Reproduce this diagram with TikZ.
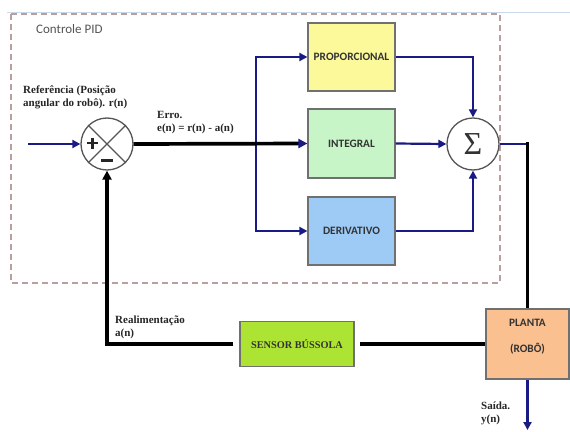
\documentclass[tikz,border=0pt]{standalone}
\usepackage{fontspec}
\setmainfont{Liberation Serif}
\newfontfamily\boxfont{Carlito}
\newfontfamily\sigfont{Liberation Serif}
\usetikzlibrary{arrows.meta,calc}
\definecolor{navyc}{HTML}{1A1A85}
\definecolor{boxborder}{HTML}{707070}
\definecolor{boxtext}{HTML}{333333}
\definecolor{dashc}{HTML}{B8A0A0}
\definecolor{topline}{HTML}{C8D8E8}
\definecolor{propc}{HTML}{FCF99A}
\definecolor{integc}{HTML}{C8F5C8}
\definecolor{derivc}{HTML}{9DCBF5}
\definecolor{plantac}{HTML}{FAC090}
\definecolor{sensorc}{HTML}{ADE332}
\definecolor{circc}{HTML}{555555}
\begin{document}
\begin{tikzpicture}[x=1pt,y=1pt,
  blk/.style={draw=boxborder, line width=1.2pt, minimum width=87pt, minimum height=68pt,
    font=\boxfont\bfseries\fontsize{11.3}{12}\selectfont, text=boxtext, inner sep=0pt, align=center},
  circ/.style={circle, draw=circc, line width=1.3pt, minimum size=52pt, inner sep=0pt, fill=white},
  nv/.style={draw=navyc, line width=2.2pt},
  nvtip/.style={-{Triangle[length=8pt,width=8pt]}},
  bl/.style={draw=black, line width=3.7pt},
  lbl/.style={font=\bfseries\fontsize{11}{13}\selectfont, align=left, inner sep=0pt, anchor=north west, text=black!85}
]
\useasboundingbox (0,0) rectangle (570,-431);
\fill[white] (0,0) rectangle (570,-431);
\draw[topline, line width=0.6pt] (7,-12) -- (570,-12);
\draw[dashc, line width=1.5pt, dash pattern=on 6pt off 4pt] (11,-14) rectangle (500,-283);
\node[anchor=west, inner sep=0pt, font=\boxfont\fontsize{13}{14}\selectfont, text=circc] (title) at (36,-29) {Controle PID};

% blocks
\node[blk, fill=propc] (prop) at (351.5,-57) {PROPORCIONAL};
\node[blk, fill=integc, minimum height=69pt] (integ) at (351.5,-143.5) {INTEGRAL};
\node[blk, fill=derivc] (deriv) at (351.5,-231) {DERIVATIVO};
\node[blk, fill=plantac, minimum width=83pt, minimum height=70pt] (planta) at (527.5,-344) {};
\node[font=\boxfont\bfseries\fontsize{11.3}{12}\selectfont, text=boxtext, inner sep=0pt] (plantat) at (527.5,-323) {PLANTA};
\node[font=\boxfont\bfseries\fontsize{11.3}{12}\selectfont, text=boxtext, inner sep=0pt] (robot) at (527.5,-349) {(ROBÔ)};
\node[blk, fill=sensorc, minimum width=114pt, minimum height=45pt,
  font=\bfseries\fontsize{10.3}{12}\selectfont] (sensor) at (297,-344) {SENSOR BÚSSOLA};

% summing junctions
\node[circ] (cross) at (107,-144) {};
\draw[circc, line width=1.3pt] (cross.45) -- (cross.225) (cross.135) -- (cross.315);
\draw[black!85, line width=2.6pt] ($(cross)+(-20,1)$) -- ($(cross)+(-9,1)$) ($(cross)+(-14.5,6.5)$) -- ($(cross)+(-14.5,-4.5)$);
\draw[black!85, line width=3pt] ($(cross)+(-6,-16)$) -- ($(cross)+(6,-16)$);
\node[circ, font=\sigfont\fontsize{32}{32}\selectfont, text=black!80] (sigma) at (473,-144) {Σ};

% coordinates
\coordinate (in) at (28,-144);
\coordinate (br) at (256,-144);
\coordinate (corner) at (planta.north |- sigma.east);
\coordinate (out) at (527.5,-430);

% connectors
\draw[nv, nvtip] (in) -- (cross.west);
\draw[nv, nvtip] (br) |- (prop.west);
\draw[nv, nvtip] (br) |- (deriv.west);
\draw[bl, -{Triangle[length=9pt,width=9pt,color=navyc]}] (cross.east) -- (integ.west);
\draw[nv, nvtip] (prop.east) -| (sigma.north);
\draw[nv, nvtip] (integ.east) -- (sigma.west);
\draw[nv, nvtip] (deriv.east) -| (sigma.south);
\draw[nv] (sigma.east) -- (corner);
\draw[bl] ($(corner)+(0,1.85)$) -- (planta.north);
\draw[nv, nvtip] (planta.south) -- (out);
\draw[bl, shorten >=5pt] (planta.west) -- (sensor.east);
\draw[bl, shorten <=6pt, -{Triangle[length=9pt,width=9pt]}] (sensor.west) -| (cross.south);

% labels
\node[lbl] (reflbl) at (23,-86) {Referência (Posição\\angular do robô). r(n)};
\node[lbl] (errolbl) at (157,-111) {Erro.\\e(n) = r(n) - a(n)};
\node[lbl] (realbl) at (115,-316) {Realimentação\\a(n)};
\node[lbl] (saidalbl) at (481,-402) {Saída.\\y(n)};
\end{tikzpicture}
\end{document}
